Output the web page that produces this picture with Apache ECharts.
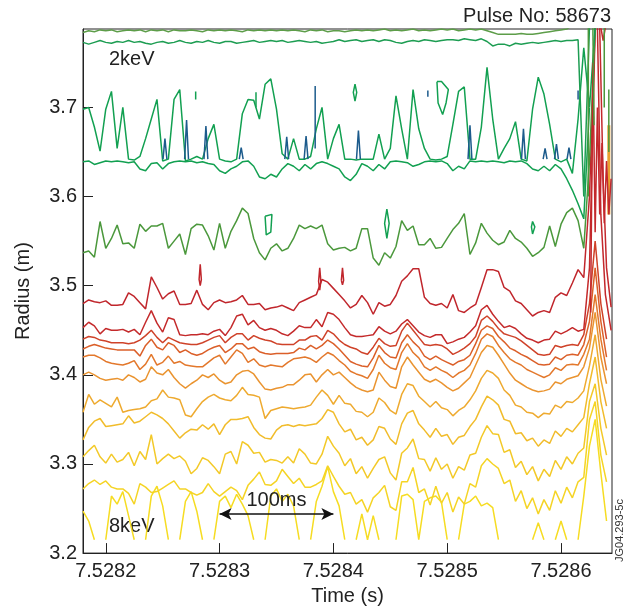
<!DOCTYPE html>
<html>
<head>
<meta charset="utf-8">
<title>Pulse No: 58673</title>
<script src="https://cdn.jsdelivr.net/npm/echarts@6/dist/echarts.min.js"></script>
<style>
  html, body { margin: 0; padding: 0; background: #fff; }
  #chart { width: 633px; height: 611px; }
</style>
</head>
<body>
<div id="chart"></div>
<script>
'use strict';

/*
 * Electron temperature contours, pulse 58673
 */

// sample times (s)
const times = [
  7.52818, 7.528185, 7.52819, 7.528195, 7.5282, 7.528205, 7.52821, 7.528215, 7.52822, 7.528225,
  7.52823, 7.528235, 7.52824, 7.528245, 7.52825, 7.528255, 7.52826, 7.528265, 7.52827, 7.528275,
  7.52828, 7.528285, 7.52829, 7.528295, 7.5283, 7.528305, 7.52831, 7.528315, 7.52832, 7.528325,
  7.52833, 7.528335, 7.52834, 7.528345, 7.52835, 7.528355, 7.52836, 7.528365, 7.52837, 7.528375,
  7.52838, 7.528385, 7.52839, 7.528395, 7.5284, 7.528405, 7.52841, 7.528415, 7.52842, 7.528425,
  7.52843, 7.528435, 7.52844, 7.528445, 7.52845, 7.528455, 7.52846, 7.528465, 7.52847, 7.528475,
  7.52848, 7.528485, 7.52849, 7.528495, 7.5285, 7.528505, 7.52851, 7.528515, 7.52852, 7.528525,
  7.52853, 7.528535, 7.52854, 7.528545, 7.52855, 7.528555, 7.52856, 7.528565, 7.52857, 7.528575,
  7.52858, 7.528585, 7.52859, 7.528595, 7.5286, 7.528605, 7.52861, 7.528615, 7.52862, 7.528625,
  7.52863, 7.528635, 7.52864
];

const timeTicks = [7.5282, 7.5283, 7.5284, 7.5285, 7.5286];
const radiusTicks = [3.2, 3.3, 3.4, 3.5, 3.6, 3.7];

// contour radii (m), one value per sample time
const topA = [
  3.784, 3.786, 3.785, 3.787, 3.786, 3.787, 3.785, 3.786, 3.787, 3.786,
  3.787, 3.785, 3.787, 3.786, 3.787, 3.785, 3.787, 3.786, 3.786, 3.787,
  3.786, 3.785, 3.787, 3.786, 3.787, 3.786, 3.787, 3.786, 3.785, 3.787,
  3.786, 3.787, 3.786, 3.787, 3.786, 3.787, 3.786, 3.787, 3.786, 3.785,
  3.787, 3.786, 3.787, 3.785, 3.786, 3.786, 3.785, 3.786, 3.787, 3.786,
  3.787, 3.786, 3.787, 3.788, 3.786, 3.787, 3.786, 3.787, 3.788, 3.786,
  3.787, 3.786, 3.787, 3.788, 3.787, 3.788, 3.786, 3.787, 3.788, 3.787,
  3.788, 3.786, 3.784, 3.782, 3.782, 3.782, 3.782, 3.783, 3.782, 3.782,
  3.783, 3.784, 3.785, 3.786, 3.787, 3.788, 3.792, null, null, null,
  null, null, null
];

const topB = [
  3.773, 3.771, 3.773, 3.775, 3.773, 3.772, 3.774, 3.773, 3.775, 3.773,
  3.774, 3.772, 3.771, 3.773, 3.774, 3.772, 3.773, 3.775, 3.773, 3.772,
  3.774, 3.773, 3.775, 3.773, 3.772, 3.774, 3.774, 3.772, 3.773, 3.774,
  3.775, 3.773, 3.774, 3.775, 3.774, 3.775, 3.773, 3.774, 3.775, 3.774,
  3.773, 3.774, 3.772, 3.773, 3.774, 3.776, 3.774, 3.775, 3.776, 3.774,
  3.775, 3.776, 3.774, 3.776, 3.775, 3.773, 3.772, 3.774, 3.775, 3.774,
  3.776, 3.775, 3.774, 3.775, 3.776, 3.776, 3.775, 3.777, 3.776, 3.775,
  3.777, 3.774, 3.769, 3.771, 3.771, 3.769, 3.772, 3.771, 3.772, 3.773,
  3.772, 3.773, 3.774, 3.775, 3.774, 3.775, 3.775, 3.776, 3.600, 3.790,
  null, null, null
];

const spikyTop = [
  3.698, 3.700, 3.678, 3.651, 3.698, 3.718, 3.654, 3.700, 3.642, 3.641,
  3.645, 3.665, 3.687, 3.709, 3.640, 3.642, 3.709, 3.720, 3.640, 3.642,
  3.645, 3.642, 3.665, 3.681, 3.642, 3.640, 3.639, 3.642, 3.693, 3.709,
  3.708, 3.687, 3.726, 3.732, 3.698, 3.648, 3.642, 3.665, 3.642, 3.642,
  3.645, 3.676, 3.700, 3.642, 3.665, 3.681, 3.642, 3.642, 3.641, 3.642,
  3.642, 3.642, 3.670, 3.642, 3.654, 3.713, 3.676, 3.642, 3.720, 3.676,
  3.654, 3.642, 3.641, 3.642, 3.645, 3.681, 3.718, 3.723, 3.642, 3.642,
  3.678, 3.745, 3.687, 3.642, 3.654, 3.665, 3.684, 3.642, 3.640, 3.698,
  3.734, 3.715, 3.681, 3.642, 3.639, 3.642, 3.626, 3.687, 3.767, 3.700,
  3.790, null, null
];

const spikyBase = [
  3.639, 3.640, 3.636, 3.638, 3.640, 3.639, 3.640, 3.639, 3.638, 3.639,
  3.631, 3.629, 3.637, 3.638, 3.631, 3.637, 3.639, 3.640, 3.639, 3.640,
  3.638, 3.639, 3.637, 3.636, 3.629, 3.626, 3.631, 3.634, 3.639, 3.640,
  3.634, 3.622, 3.620, 3.625, 3.622, 3.631, 3.637, 3.634, 3.629, 3.636,
  3.631, 3.637, 3.639, 3.637, 3.634, 3.631, 3.622, 3.618, 3.625, 3.637,
  3.634, 3.629, 3.636, 3.631, 3.639, 3.640, 3.639, 3.638, 3.634, 3.636,
  3.639, 3.640, 3.639, 3.640, 3.637, 3.629, 3.634, 3.631, 3.640, 3.639,
  3.640, 3.639, 3.640, 3.639, 3.638, 3.640, 3.639, 3.640, 3.637, 3.631,
  3.629, 3.634, 3.629, 3.636, 3.631, 3.620, 3.607, 3.592, 3.575, 3.700,
  null, null, null
];

const olive = [
  3.537, 3.539, 3.532, 3.572, 3.542, 3.553, 3.568, 3.547, 3.548, 3.542,
  3.569, 3.561, 3.567, 3.567, 3.570, 3.542, 3.550, 3.558, 3.535, 3.564,
  3.569, 3.568, 3.556, 3.540, 3.570, 3.542, 3.561, 3.573, 3.587, 3.581,
  3.553, 3.537, 3.529, 3.542, 3.547, 3.539, 3.542, 3.553, 3.568, 3.564,
  3.567, 3.564, 3.568, 3.547, 3.540, 3.542, 3.543, 3.539, 3.542, 3.564,
  3.564, 3.531, 3.523, 3.537, 3.531, 3.544, 3.573, 3.562, 3.567, 3.546,
  3.546, 3.553, 3.542, 3.543, 3.553, 3.563, 3.570, 3.581, 3.535, 3.548,
  3.570, 3.559, 3.551, 3.546, 3.549, 3.562, 3.553, 3.549, 3.542, 3.533,
  3.537, 3.543, 3.567, 3.544, 3.569, 3.582, 3.587, 3.573, 3.542, 3.640,
  3.790, null, null
];

const red1 = [
  3.480, 3.484, 3.482, 3.481, 3.483, 3.478, 3.478, 3.479, 3.492, 3.488,
  3.481, 3.474, 3.510, 3.498, 3.485, 3.491, 3.494, 3.479, 3.479, 3.480,
  3.495, 3.479, 3.473, 3.481, 3.484, 3.481, 3.482, 3.484, 3.489, 3.479,
  3.479, 3.480, 3.473, 3.475, 3.476, 3.478, 3.475, 3.472, 3.481, 3.484,
  3.487, 3.490, 3.507, 3.504, 3.497, 3.490, 3.483, 3.475, 3.479, 3.489,
  3.481, 3.468, 3.481, 3.477, 3.479, 3.489, 3.505, 3.511, 3.519, 3.519,
  3.487, 3.480, 3.478, 3.480, 3.475, 3.490, 3.472, 3.470, 3.475, 3.479,
  3.498, 3.518, 3.518, 3.516, 3.498, 3.494, 3.483, 3.480, 3.473, 3.466,
  3.470, 3.472, 3.470, 3.487, 3.492, 3.489, 3.503, 3.518, 3.509, 3.600,
  3.790, null, null
];

const red2 = [
  3.453, 3.459, 3.455, 3.446, 3.452, 3.450, 3.450, 3.451, 3.448, 3.451,
  3.445, 3.459, 3.472, 3.458, 3.448, 3.464, 3.462, 3.445, 3.444, 3.445,
  3.445, 3.446, 3.445, 3.449, 3.451, 3.444, 3.453, 3.466, 3.468, 3.456,
  3.461, 3.453, 3.450, 3.452, 3.450, 3.446, 3.444, 3.449, 3.455, 3.453,
  3.453, 3.462, 3.454, 3.470, 3.468, 3.462, 3.453, 3.445, 3.443, 3.443,
  3.444, 3.445, 3.454, 3.449, 3.446, 3.449, 3.457, 3.462, 3.455, 3.448,
  3.444, 3.442, 3.445, 3.445, 3.435, 3.437, 3.440, 3.442, 3.448, 3.455,
  3.473, 3.478, 3.468, 3.460, 3.453, 3.455, 3.452, 3.446, 3.441, 3.439,
  3.436, 3.439, 3.440, 3.449, 3.446, 3.449, 3.453, 3.449, 3.451, 3.520,
  3.790, null, null
];

const red3 = [
  3.440, 3.443, 3.442, 3.439, 3.438, 3.436, 3.436, 3.436, 3.435, 3.436,
  3.439, 3.444, 3.450, 3.442, 3.436, 3.442, 3.439, 3.436, 3.435, 3.434,
  3.434, 3.436, 3.439, 3.442, 3.444, 3.436, 3.442, 3.446, 3.446, 3.439,
  3.444, 3.441, 3.439, 3.438, 3.435, 3.434, 3.434, 3.434, 3.439, 3.439,
  3.443, 3.444, 3.439, 3.450, 3.446, 3.439, 3.434, 3.431, 3.429, 3.425,
  3.423, 3.431, 3.441, 3.435, 3.432, 3.433, 3.449, 3.458, 3.450, 3.442,
  3.434, 3.433, 3.434, 3.433, 3.429, 3.423, 3.426, 3.430, 3.435, 3.443,
  3.461, 3.466, 3.460, 3.452, 3.446, 3.444, 3.442, 3.438, 3.433, 3.428,
  3.423, 3.422, 3.423, 3.433, 3.431, 3.433, 3.434, 3.433, 3.445, 3.480,
  3.550, 3.480, 3.440
];

const orange4 = [
  3.429, 3.432, 3.434, 3.432, 3.430, 3.429, 3.428, 3.428, 3.428, 3.428,
  3.421, 3.433, 3.440, 3.431, 3.428, 3.436, 3.433, 3.425, 3.428, 3.424,
  3.422, 3.424, 3.428, 3.431, 3.433, 3.425, 3.429, 3.435, 3.435, 3.429,
  3.431, 3.426, 3.424, 3.423, 3.424, 3.424, 3.424, 3.425, 3.430, 3.428,
  3.433, 3.429, 3.433, 3.439, 3.435, 3.429, 3.422, 3.415, 3.412, 3.410,
  3.409, 3.419, 3.433, 3.425, 3.420, 3.419, 3.436, 3.445, 3.437, 3.431,
  3.421, 3.417, 3.421, 3.417, 3.414, 3.411, 3.415, 3.417, 3.422, 3.435,
  3.450, 3.455, 3.452, 3.443, 3.437, 3.430, 3.427, 3.423, 3.420, 3.416,
  3.412, 3.411, 3.412, 3.420, 3.417, 3.422, 3.423, 3.422, 3.434, 3.460,
  3.520, 3.460, 3.420
];

const orange5 = [
  3.420, 3.422, 3.422, 3.419, 3.415, 3.413, 3.412, 3.411, 3.413, 3.416,
  3.406, 3.412, 3.423, 3.411, 3.414, 3.421, 3.413, 3.415, 3.411, 3.410,
  3.409, 3.409, 3.414, 3.419, 3.422, 3.412, 3.420, 3.428, 3.424, 3.414,
  3.418, 3.411, 3.409, 3.411, 3.410, 3.409, 3.414, 3.418, 3.419, 3.420,
  3.418, 3.414, 3.420, 3.425, 3.422, 3.416, 3.411, 3.404, 3.401, 3.399,
  3.396, 3.406, 3.422, 3.413, 3.408, 3.406, 3.425, 3.435, 3.425, 3.419,
  3.409, 3.405, 3.409, 3.405, 3.402, 3.397, 3.402, 3.405, 3.411, 3.424,
  3.440, 3.446, 3.443, 3.433, 3.425, 3.418, 3.414, 3.411, 3.406, 3.403,
  3.400, 3.397, 3.400, 3.408, 3.405, 3.411, 3.412, 3.411, 3.423, 3.440,
  3.490, 3.440, 3.405
];

const orange6 = [
  3.400, 3.403, 3.400, 3.396, 3.394, 3.395, 3.396, 3.394, 3.400, 3.397,
  3.392, 3.395, 3.409, 3.402, 3.400, 3.406, 3.397, 3.390, 3.385, 3.390,
  3.394, 3.400, 3.397, 3.401, 3.394, 3.390, 3.392, 3.400, 3.404, 3.405,
  3.401, 3.392, 3.384, 3.383, 3.385, 3.386, 3.389, 3.389, 3.394, 3.400,
  3.401, 3.392, 3.400, 3.406, 3.400, 3.403, 3.397, 3.391, 3.386, 3.383,
  3.381, 3.383, 3.403, 3.394, 3.387, 3.385, 3.409, 3.420, 3.411, 3.403,
  3.395, 3.392, 3.395, 3.391, 3.386, 3.382, 3.385, 3.391, 3.397, 3.411,
  3.425, 3.433, 3.431, 3.422, 3.412, 3.402, 3.394, 3.390, 3.386, 3.383,
  3.381, 3.382, 3.384, 3.392, 3.390, 3.395, 3.397, 3.399, 3.409, 3.430,
  3.470, 3.420, 3.390
];

const amber7 = [
  3.358, 3.378, 3.367, 3.372, 3.368, 3.364, 3.375, 3.358, 3.360, 3.361,
  3.362, 3.364, 3.371, 3.373, 3.383, 3.375, 3.374, 3.372, 3.355, 3.353,
  3.362, 3.370, 3.375, 3.378, 3.374, 3.372, 3.371, 3.377, 3.386, 3.378,
  3.377, 3.375, 3.351, 3.360, 3.362, 3.364, 3.363, 3.362, 3.363, 3.364,
  3.366, 3.375, 3.383, 3.377, 3.367, 3.377, 3.368, 3.367, 3.359, 3.358,
  3.353, 3.358, 3.374, 3.369, 3.360, 3.356, 3.378, 3.390, 3.388, 3.376,
  3.370, 3.364, 3.370, 3.363, 3.361, 3.354, 3.360, 3.364, 3.372, 3.382,
  3.396, 3.405, 3.402, 3.396, 3.383, 3.377, 3.366, 3.364, 3.358, 3.357,
  3.352, 3.357, 3.356, 3.366, 3.363, 3.370, 3.369, 3.374, 3.382, 3.410,
  3.445, 3.395, 3.365
];

const amber8 = [
  3.327, 3.341, 3.348, 3.351, 3.342, 3.343, 3.344, 3.345, 3.354, 3.346,
  3.348, 3.353, 3.358, 3.355, 3.351, 3.345, 3.337, 3.329, 3.335, 3.339,
  3.338, 3.344, 3.339, 3.345, 3.333, 3.344, 3.350, 3.350, 3.351, 3.353,
  3.341, 3.333, 3.329, 3.328, 3.338, 3.343, 3.344, 3.342, 3.344, 3.343,
  3.344, 3.345, 3.351, 3.361, 3.358, 3.345, 3.336, 3.339, 3.327, 3.330,
  3.321, 3.327, 3.342, 3.340, 3.328, 3.322, 3.345, 3.357, 3.360, 3.345,
  3.338, 3.330, 3.340, 3.331, 3.333, 3.322, 3.330, 3.332, 3.342, 3.350,
  3.364, 3.376, 3.372, 3.366, 3.350, 3.348, 3.334, 3.335, 3.326, 3.329,
  3.320, 3.327, 3.323, 3.337, 3.331, 3.340, 3.336, 3.344, 3.352, 3.390,
  3.420, 3.370, 3.340
];

const yellow9 = [
  3.308, 3.315, 3.321, 3.308, 3.301, 3.311, 3.302, 3.305, 3.313, 3.298,
  3.314, 3.305, 3.333, 3.300, 3.306, 3.311, 3.306, 3.309, 3.303, 3.289,
  3.295, 3.307, 3.304, 3.297, 3.289, 3.311, 3.314, 3.300, 3.325, 3.321,
  3.312, 3.313, 3.302, 3.305, 3.304, 3.301, 3.308, 3.301, 3.317, 3.311,
  3.301, 3.300, 3.311, 3.331, 3.320, 3.312, 3.298, 3.306, 3.289, 3.297,
  3.284, 3.295, 3.305, 3.308, 3.290, 3.282, 3.312, 3.318, 3.328, 3.306,
  3.305, 3.292, 3.307, 3.294, 3.300, 3.284, 3.297, 3.293, 3.310, 3.312,
  3.330, 3.343, 3.334, 3.333, 3.313, 3.316, 3.296, 3.303, 3.288, 3.297,
  3.281, 3.294, 3.286, 3.304, 3.294, 3.308, 3.300, 3.312, 3.318, 3.370,
  3.390, 3.340, 3.310
];

const yellow10 = [
  3.272, 3.278, 3.282, 3.277, 3.281, 3.274, 3.272, 3.272, 3.267, 3.255,
  3.278, 3.274, 3.268, 3.269, 3.273, 3.277, 3.281, 3.272, 3.272, 3.268,
  3.265, 3.268, 3.278, 3.269, 3.264, 3.269, 3.274, 3.270, 3.260, 3.276,
  3.283, 3.291, 3.277, 3.276, 3.281, 3.294, 3.286, 3.278, 3.284, 3.274,
  3.274, 3.277, 3.281, 3.298, 3.286, 3.275, 3.266, 3.268, 3.255, 3.260,
  3.246, 3.262, 3.268, 3.276, 3.252, 3.248, 3.280, 3.280, 3.296, 3.268,
  3.272, 3.254, 3.275, 3.256, 3.268, 3.246, 3.263, 3.255, 3.278, 3.274,
  3.298, 3.306, 3.300, 3.295, 3.278, 3.282, 3.258, 3.270, 3.250, 3.262,
  3.244, 3.260, 3.248, 3.270, 3.256, 3.274, 3.262, 3.280, 3.285, 3.350,
  3.370, 3.310, 3.280
];

// lowest contour, broken where it leaves the measured range
const yellow11 = [
  3.247, 3.236, 3.215, null, 3.215, 3.264, 3.255, 3.269, 3.242, 3.215,
  null, 3.215, 3.264, 3.275, 3.253, 3.215, null, 3.215, 3.258, 3.269,
  3.247, 3.215, null, 3.215, 3.258, 3.264, 3.251, 3.266, 3.255, 3.242,
  3.215, null, 3.215, 3.264, 3.272, 3.258, 3.266, 3.253, 3.215, null,
  3.215, 3.258, 3.275, 3.297, 3.269, 3.253, 3.215, null, 3.215, 3.244,
  3.215, 3.242, 3.215, null, null, 3.215, 3.264, 3.266, 3.260, 3.215,
  3.258, 3.262, 3.264, 3.257, 3.215, null, 3.215, 3.255, 3.258, 3.264,
  3.253, 3.256, 3.251, 3.215, null, null, null, null, null, 3.215,
  3.234, 3.215, null, 3.215, 3.236, 3.215, null, 3.215, 3.264, 3.320,
  3.350, 3.290, 3.236
];

// narrow 1.5 keV peaks inside the 2 keV band
const blueSpikeTimes = [7.528252, 7.528271, 7.528288, 7.528319, 7.528359, 7.528376, 7.528422, 7.52852, 7.528567, 7.528586, 7.528596, 7.528607];
const blueSpikeTops = [3.665, 3.686, 3.679, 3.655, 3.667, 3.668, 3.674, 3.680, 3.676, 3.654, 3.659, 3.655];
const blueBarTimes = [7.528384, 7.528483, 7.528615];
const blueBarTops = [3.724, 3.719, 3.719];
const blueBarBottoms = [3.654, 3.712, 3.709];

// small closed islands
const greenIslands = [
  [[7.52834, 3.578], [7.528346, 3.58], [7.528345, 3.56], [7.528341, 3.557], [7.52834, 3.578]],
  [[7.528447, 3.586], [7.528449, 3.57], [7.528447, 3.553], [7.528445, 3.57], [7.528447, 3.586]],
  [[7.528575, 3.572], [7.528577, 3.566], [7.528575, 3.558], [7.528574, 3.566], [7.528575, 3.572]],
  [[7.528419, 3.726], [7.5284205, 3.717], [7.528419, 3.707], [7.5284175, 3.717], [7.528419, 3.726]],
  [[7.528491, 3.729], [7.528495, 3.729], [7.528501, 3.72], [7.528499, 3.705], [7.528496, 3.692], [7.528492, 3.705], [7.528491, 3.729]],
  [[7.528279, 3.718], [7.528279, 3.709]],
  [[7.528332, 3.717], [7.528332, 3.700]]
];
const redIslands = [
  [[7.528282, 3.507], [7.528283, 3.524], [7.528284, 3.507], [7.528283, 3.5], [7.528282, 3.507]],
  [[7.528387, 3.505], [7.528388, 3.52], [7.528389, 3.505], [7.528388, 3.495], [7.528387, 3.505]],
  [[7.528407, 3.506], [7.528408, 3.52], [7.528409, 3.506], [7.528408, 3.501], [7.528407, 3.506]]
];

// sawtooth crash at the right edge
const crashRed = [
  [[7.528634, 3.79], [7.528637, 3.62], [7.52864, 3.52], [7.528644, 3.476]],
  [[7.528632, 3.79], [7.528635, 3.58], [7.528639, 3.49], [7.528644, 3.45]],
  [[7.528626, 3.47], [7.528628, 3.75], [7.52863, 3.56], [7.528632, 3.7], [7.528634, 3.58], [7.528636, 3.66], [7.528638, 3.57], [7.52864, 3.64], [7.528642, 3.58], [7.528644, 3.62]],
  [[7.528635, 3.79], [7.528637, 3.775], [7.528639, 3.79]]
];
const crashGreen = [
  [[7.528624, 3.6], [7.528624, 3.79]],
  [[7.528638, 3.79], [7.528638, 3.7]],
  [[7.528642, 3.72], [7.528642, 3.65]],
  [[7.528628, 3.79], [7.528629, 3.68]]
];
const crashAmber = [
  [[7.528642, 3.68], [7.528642, 3.58]]
];

const scaleBar = [7.5283, 7.5284];
const scaleBarRadius = 3.244;

const FONT = '"Liberation Sans", Arial, Helvetica, sans-serif';
const INK = '#222';

const lineSeries = (data, color, width) => ({
  type: 'line',
  data,
  symbol: 'none',
  silent: true,
  connectNulls: false,
  clip: true,
  lineStyle: { color, width: width || 1.5 },
  z: 2
});

const contour = (vals, color, width) =>
  lineSeries(times.map((t, i) => [t, vals[i] === null ? '-' : vals[i]]), color, width);

const spikeData = () => {
  const out = [];
  const hw = 0.0000017;
  blueSpikeTimes.forEach((t, k) => {
    out.push([t - hw, 3.642], [t, blueSpikeTops[k]], [t + hw, 3.642], [t, '-']);
  });
  blueBarTimes.forEach((t, k) => {
    out.push([t, blueBarTops[k]], [t, blueBarBottoms[k]], [t, '-']);
  });
  return out;
};

const series = [
  contour(yellow11, '#f6dc22'),
  contour(yellow10, '#f5d425'),
  contour(yellow9, '#f3c928'),
  contour(amber8, '#f1bc2b'),
  contour(amber7, '#eeaa2f'),
  contour(orange6, '#ea9430'),
  contour(orange5, '#e3782c'),
  contour(orange4, '#db5f29'),
  contour(red3, '#cf4229'),
  contour(red2, '#c42a2b'),
  contour(red1, '#c0262c'),
  contour(olive, '#4b983c'),
  contour(spikyBase, '#12a051'),
  contour(spikyTop, '#12a051'),
  contour(topB, '#1d9d52'),
  contour(topA, '#5d9d49')
];
crashAmber.forEach(d => series.push(lineSeries(d, '#e8a02e', 3)));
crashRed.forEach(d => series.push(lineSeries(d, '#c3282c')));
crashGreen.forEach(d => series.push(lineSeries(d, '#4b983c')));
redIslands.forEach(d => series.push(lineSeries(d, '#c0262c')));
greenIslands.forEach(d => series.push(lineSeries(d, '#12a051')));
series.push(lineSeries(spikeData(), '#1c5b8c'));

// 100 ms scale bar
series.push({
  type: 'line',
  data: [],
  silent: true,
  markLine: {
    silent: true,
    animation: false,
    symbol: ['arrow', 'arrow'],
    symbolSize: [9, 12],
    lineStyle: { color: '#111', width: 1.6, type: 'solid' },
    label: { show: true, position: 'middle', formatter: '100ms', color: INK, fontSize: 20, fontFamily: FONT, distance: 3 },
    data: [[{ coord: [scaleBar[0], scaleBarRadius] }, { coord: [scaleBar[1], scaleBarRadius] }]]
  }
});

const chart = echarts.init(document.getElementById('chart'), null, { renderer: 'canvas' });
chart.setOption({
  animation: false,
  backgroundColor: '#fff',
  grid: { left: 83, right: 21, top: 29, bottom: 54, show: true, borderColor: INK, borderWidth: 1, backgroundColor: 'transparent' },
  xAxis: {
    type: 'value',
    min: 7.52818,
    max: 7.5286448,
    name: 'Time (s)',
    nameLocation: 'middle',
    nameGap: 30,
    nameTextStyle: { color: INK, fontSize: 20, fontFamily: FONT },
    axisLine: { show: true, lineStyle: { color: INK, width: 1 } },
    axisTick: { show: true, inside: true, length: 10, customValues: timeTicks, lineStyle: { color: INK } },
    axisLabel: { customValues: timeTicks, margin: 8, color: INK, fontSize: 20, fontFamily: FONT, formatter: v => v.toFixed(4) },
    splitLine: { show: false }
  },
  yAxis: {
    type: 'value',
    min: 3.2,
    max: 3.788,
    name: 'Radius (m)',
    nameLocation: 'middle',
    nameGap: 50,
    nameTextStyle: { color: INK, fontSize: 20, fontFamily: FONT },
    axisLine: { show: true, lineStyle: { color: INK, width: 1 } },
    axisTick: { show: true, inside: true, length: 10, customValues: radiusTicks, lineStyle: { color: INK } },
    axisLabel: { customValues: radiusTicks, margin: 6, color: INK, fontSize: 20, fontFamily: FONT, formatter: v => v.toFixed(1) },
    splitLine: { show: false }
  },
  graphic: [
    { type: 'text', right: 22, top: 6, style: { text: 'Pulse No: 58673', fill: INK, font: '20px ' + FONT } },
    { type: 'text', left: 109, top: 49, style: { text: '2keV', fill: INK, font: '20px ' + FONT } },
    { type: 'text', left: 109, top: 516, style: { text: '8keV', fill: INK, font: '20px ' + FONT } },
    { type: 'text', x: 614, y: 562, rotation: Math.PI / 2, style: { text: 'JG04.293-5c', fill: '#333', font: '11px ' + FONT } }
  ],
  series
});
</script>
</body>
</html>
